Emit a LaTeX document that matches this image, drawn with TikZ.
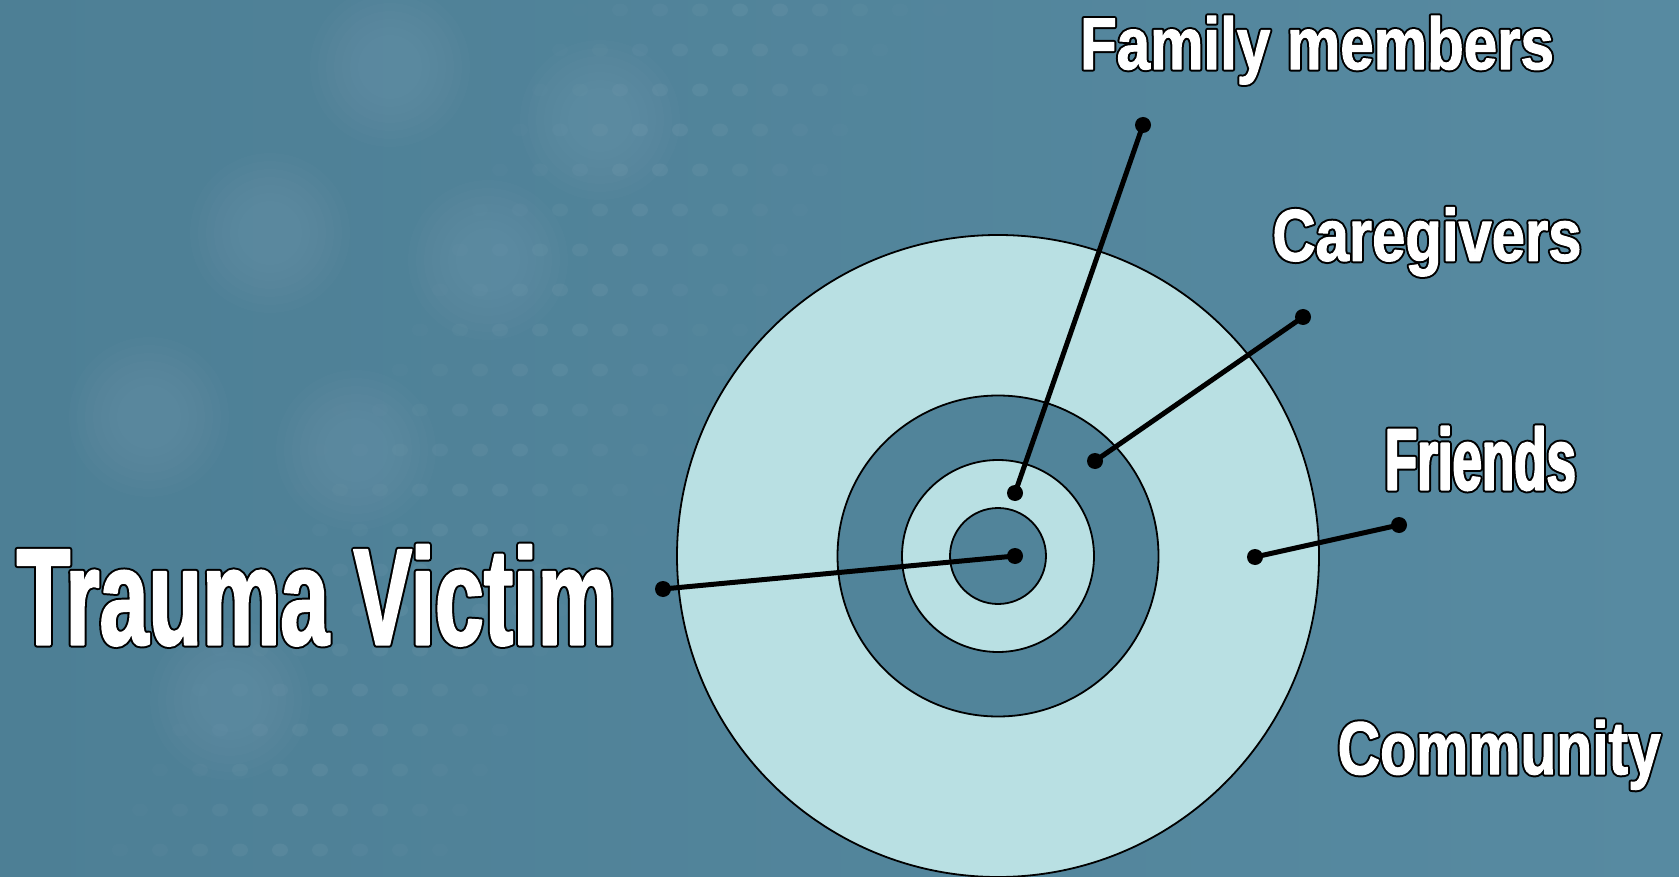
\documentclass[tikz,border=0pt]{standalone}
\usepackage{fontspec}
\usepackage{graphicx}
% black (outline) layer and white (face) layer for each label
\newfontfamily\fTVk[FakeStretch=0.622,FakeBold=4.3]{Liberation Sans Bold}
\newfontfamily\fTVw[FakeStretch=0.622,FakeBold=1.43]{Liberation Sans Bold}
\newfontfamily\fFMk[FakeStretch=0.805,FakeBold=6.7]{Liberation Sans Bold}
\newfontfamily\fFMw[FakeStretch=0.805,FakeBold=1.34]{Liberation Sans Bold}
\newfontfamily\fCGk[FakeStretch=0.82,FakeBold=6.85]{Liberation Sans Bold}
\newfontfamily\fCGw[FakeStretch=0.82,FakeBold=1.37]{Liberation Sans Bold}
\newfontfamily\fFRk[FakeStretch=0.60,FakeBold=6.8]{Liberation Sans Bold}
\newfontfamily\fFRw[FakeStretch=0.60,FakeBold=2.26]{Liberation Sans Bold}
\newfontfamily\fCMk[FakeStretch=0.79,FakeBold=6.7]{Liberation Sans Bold}
\newfontfamily\fCMw[FakeStretch=0.79,FakeBold=1.34]{Liberation Sans Bold}
\definecolor{bgL}{HTML}{4D7F95}
\definecolor{bgR}{HTML}{578AA1}
\definecolor{ringc}{HTML}{B9E0E3}
\definecolor{darkc}{HTML}{51849A}
\tikzset{
  ringL/.style={circle, draw=black, line width=1.8pt, fill=ringc, inner sep=0pt},
  ringD/.style={circle, draw=black, line width=1.8pt, fill=darkc, inner sep=0pt},
  dotn/.style={circle, fill=black, minimum size=16pt, inner sep=0pt},
  conn/.style={line width=5pt, black},
  lbl/.style={anchor=base west, inner sep=0pt},
  blob/.style={white, opacity=0.012},
}
% #1 width, #2 height, #3 black-layer font, #4 white-layer font, #5 text
\newcommand{\otext}[5]{\resizebox{#1pt}{#2pt}{\special{pdf:literal direct 1 j 1 J}\rlap{\color{black}#3#5}\color{white}#4#5}}
\begin{document}
\begin{tikzpicture}[x=1pt,y=-1pt]
\useasboundingbox (0,0) rectangle (1679,877);
\clip (0,0) rectangle (1679,877);
\shade[left color=bgL, right color=bgR] (0,0) rectangle (1679,877);
% soft blobs
\foreach \bx/\by in {390/67, 270/233, 149/417, 488/260, 356/450, 600/120, 230/700}{
  \foreach \r in {80,72,64,56,48,40,32}{\fill[blob] (\bx,\by) circle (\r);}
}
% dotted band
\foreach \i in {0,...,26}{
  \foreach \j in {0,...,22}{
    \pgfmathsetmacro\xx{\i*40 + mod(\j,2)*20 - 20}
    \pgfmathsetmacro\yy{\j*40 + 10}
    \pgfmathsetmacro\dd{abs(\xx - (760 - 0.57*\yy))}
    \pgfmathsetmacro\op{max(0, 0.055*(1 - \dd/210))}
    \fill[white, opacity=\op] (\xx,\yy) ellipse (8 and 6.5);
  }
}
% target
\coordinate (C) at (998,556);
\node[ringL, minimum size=642pt] (r1) at (C) {};
\node[ringD, minimum size=321pt] (r2) at (C) {};
\node[ringL, minimum size=192pt] (r3) at (C) {};
\node[ringD, minimum size=96pt] (r4) at (C) {};
% dots
\node[dotn] (tvA) at (663,589) {};
\node[dotn] (tvB) at (1015,556) {};
\node[dotn] (fmA) at (1143,125) {};
\node[dotn] (fmB) at (1015,493) {};
\node[dotn] (cgA) at (1303,317) {};
\node[dotn] (cgB) at (1095,461) {};
\node[dotn] (frA) at (1399,525) {};
\node[dotn] (frB) at (1255,557) {};
% connectors
\draw[conn] (tvA.center) -- (tvB.center);
\draw[conn] (fmA.center) -- (fmB.center);
\draw[conn] (cgA.center) -- (cgB.center);
\draw[conn] (frA.center) -- (frB.center);
% labels
\node[lbl] (tv) at (16.4,644.7) {\otext{599}{100}{\fTVk\fontsize{139.7}{144}\selectfont}{\fTVw\fontsize{139.7}{144}\selectfont}{Trauma Victim}};
\node[lbl] (fm) at (1079.8,69.2) {\otext{474}{53.4}{\fFMk\fontsize{74.6}{78}\selectfont}{\fFMw\fontsize{74.6}{78}\selectfont}{Family members}};
\node[lbl] (cg) at (1272.3,260.8) {\otext{309}{53.3}{\fCGk\fontsize{73}{76}\selectfont}{\fCGw\fontsize{73}{76}\selectfont}{Caregivers}};
\node[lbl] (fr) at (1384.7,489.7) {\otext{191}{63.4}{\fFRk\fontsize{88.5}{92}\selectfont}{\fFRw\fontsize{88.5}{92}\selectfont}{Friends}};
\node[lbl] (cm) at (1337.5,774.2) {\otext{323}{54.4}{\fCMk\fontsize{74.5}{78}\selectfont}{\fCMw\fontsize{74.5}{78}\selectfont}{Community}};
\end{tikzpicture}
\end{document}
